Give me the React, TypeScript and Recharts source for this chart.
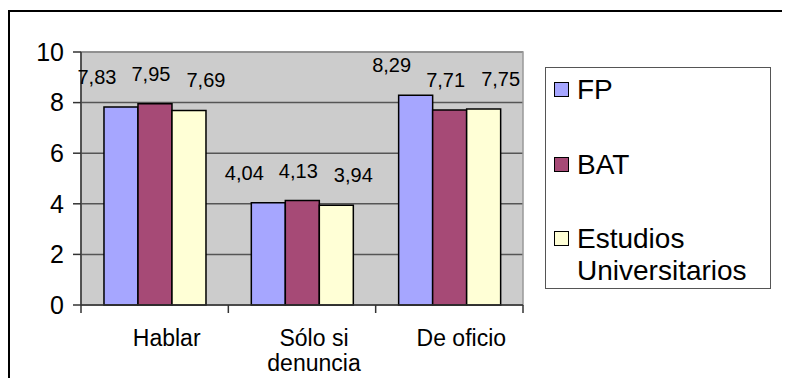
import React from "react";
import {
  BarChart,
  Bar,
  XAxis,
  YAxis,
  CartesianGrid,
  LabelList,
  ReferenceArea,
} from "recharts";

const categories = ["Hablar", "Sólo si\ndenuncia", "De oficio"];
const fp = [7.83, 4.04, 8.29];
const bat = [7.95, 4.13, 7.71];
const estudios = [7.69, 3.94, 7.75];
const yTicks = [0, 2, 4, 6, 8, 10];

const series = [
  { key: "FP", name: "FP", values: fp, color: "#A6A6FF", labelDx: -24 },
  { key: "BAT", name: "BAT", values: bat, color: "#A64A76", labelDx: -4 },
  { key: "EU", name: "Estudios Universitarios", values: estudios, color: "#FFFFD6", labelDx: 17 },
];

const data = categories.map((c, i) => ({
  category: c,
  FP: fp[i],
  BAT: bat[i],
  EU: estudios[i],
}));

const FONT = '"Liberation Sans", Arial, sans-serif';
const fmt = (v: number) => v.toFixed(2).replace(".", ",");

function CategoryTick(props: any) {
  const { x, y, payload, index, visibleTicksCount } = props;
  const half = payload && payload.offset ? payload.offset : 73.67;
  const lines = String(payload.value).split("\n");
  const last = index === (visibleTicksCount ?? 3) - 1;
  return (
    <g>
      <line x1={x - half} x2={x - half} y1={y} y2={y + 8} stroke="#333" strokeWidth={1.5} />
      {last && <line x1={x + half} x2={x + half} y1={y} y2={y + 8} stroke="#333" strokeWidth={1.5} />}
      <text x={x + 12} y={y + 41} textAnchor="middle" fontSize={23} fontFamily={FONT} fill="#000">
        {lines.map((l, i) => (
          <tspan key={i} x={x + 12} dy={i === 0 ? 0 : 25}>
            {l}
          </tspan>
        ))}
      </text>
    </g>
  );
}

const makeLabel = (dx: number) => (props: any) => {
  const { x, y, width, value } = props;
  return (
    <text
      x={Number(x) + Number(width) / 2 + dx}
      y={Number(y) - 23}
      textAnchor="middle"
      fontSize={20}
      fontFamily={FONT}
      fill="#000"
    >
      {fmt(Number(value))}
    </text>
  );
};

function LegendBox() {
  const rows = [22, 97, 171];
  return (
    <div
      style={{
        position: "absolute",
        left: 537,
        top: 59,
        width: 226,
        height: 222,
        boxSizing: "border-box",
        border: "1px solid #555",
        background: "#fff",
        fontFamily: FONT,
        fontSize: 28,
        color: "#000",
      }}
    >
      {series.map((s, i) => (
        <div key={s.key} style={{ position: "absolute", left: 0, top: rows[i] - 16 }}>
          <div
            style={{
              position: "absolute",
              left: 8,
              top: 8,
              width: 15,
              height: 15,
              boxSizing: "border-box",
              border: "1.5px solid #000",
              background: s.color,
            }}
          />
          <div style={{ position: "absolute", left: 31, top: 0, width: 185, lineHeight: "32px" }}>
            {s.name}
          </div>
        </div>
      ))}
    </div>
  );
}

export default function App() {
  return (
    <div style={{ position: "relative", width: 782, height: 370, overflow: "hidden" }}>
      <div
        style={{
          position: "absolute",
          left: 0,
          top: 2,
          width: 782,
          height: 368,
          boxSizing: "border-box",
          borderTop: "2px solid #000",
          borderLeft: "2px solid #000",
        }}
      />
      <div style={{ position: "absolute", left: 0, top: 0 }}>
        <BarChart
          width={782}
          height={370}
          data={data}
          margin={{ top: 44, right: 267, left: 0, bottom: 0 }}
          barCategoryGap="15.6%"
          barGap={0}
        >
          <CartesianGrid vertical={false} fill="#CCCCCC" stroke="#555" strokeWidth={1.5} />
          <ReferenceArea y1={0} y2={10} fill="none" stroke="#999" strokeWidth={1.5} ifOverflow="visible" />
          <XAxis
            dataKey="category"
            height={73}
            axisLine={{ stroke: "#333", strokeWidth: 1.5 }}
            tickLine={false}
            tickSize={0}
            tickMargin={0}
            interval={0}
            tick={<CategoryTick />}
          />
          <YAxis
            width={73}
            domain={[0, 10]}
            ticks={yTicks}
            interval={0}
            axisLine={{ stroke: "#333", strokeWidth: 1.5 }}
            tickLine={{ stroke: "#333", strokeWidth: 1.5 }}
            tickSize={8}
            tickMargin={9}
            tick={{ fontSize: 25, fontFamily: FONT, fill: "#000" }}
          />
          {series.map((s) => (
            <Bar
              key={s.key}
              dataKey={s.key}
              name={s.name}
              fill={s.color}
              stroke="#000"
              strokeWidth={1.5}
              isAnimationActive={false}
            >
              <LabelList dataKey={s.key} content={makeLabel(s.labelDx)} />
            </Bar>
          ))}
        </BarChart>
      </div>
      <LegendBox />
    </div>
  );
}
